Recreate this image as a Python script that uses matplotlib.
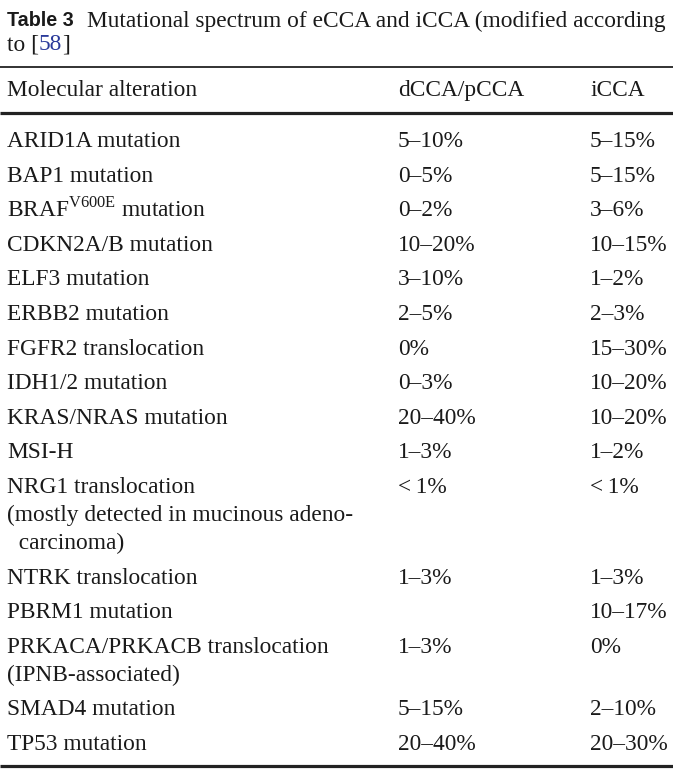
import matplotlib
matplotlib.use("Agg")
import matplotlib.pyplot as plt

plt.rcParams['mathtext.fontset'] = 'custom'
plt.rcParams['mathtext.rm'] = 'Liberation Serif'

title_label = "Table 3"
title_text = "Mutational spectrum of eCCA and iCCA (modified according"
title_line2 = ["to [", "58", "]"]
headers = ["Molecular alteration", "dCCA/pCCA", "iCCA"]

alterations = [
    ["ARID1A mutation"],
    ["BAP1 mutation"],
    [r"BRAF$^{\mathrm{V600E}}$ mutation"],
    ["CDKN2A/B mutation"],
    ["ELF3 mutation"],
    ["ERBB2 mutation"],
    ["FGFR2 translocation"],
    ["IDH1/2 mutation"],
    ["KRAS/NRAS mutation"],
    ["MSI-H"],
    ["NRG1 translocation", "(mostly detected in mucinous adeno-", "  carcinoma)"],
    ["NTRK translocation"],
    ["PBRM1 mutation"],
    ["PRKACA/PRKACB translocation", "(IPNB-associated)"],
    ["SMAD4 mutation"],
    ["TP53 mutation"],
]
dcca = ["5–10%", "0–5%", "0–2%", "10–20%", "3–10%", "2–5%", "0%", "0–3%",
        "20–40%", "1–3%", "<\u20091%", "1–3%", "", "1–3%", "5–15%", "20–40%"]
icca = ["5–15%", "5–15%", "3–6%", "10–15%", "1–2%", "2–3%", "15–30%", "10–20%",
        "10–20%", "1–2%", "<\u20091%", "1–3%", "10–17%", "0%", "2–10%", "20–30%"]

W, H = 673, 771
fig = plt.figure(figsize=(W / 100, H / 100), dpi=100)
ax = fig.add_axes([0, 0, 1, 1])
ax.set_xlim(0, W)
ax.set_ylim(H, 0)
ax.axis('off')

serif = ['Liberation Serif', 'DejaVu Serif']
fs = 16.8
col_x = [7, 398, 590]
txtc = '#1a1a1a'

renderer = fig.canvas.get_renderer()

def width_px(t):
    bb = t.get_window_extent(renderer=renderer)
    return bb.width

# Title
ax.text(7, 26.5, title_label, family=['Liberation Sans', 'DejaVu Sans'], fontweight='bold',
        fontsize=14.2, va='baseline', ha='left', color=txtc)
ax.text(87, 26.5, title_text, family=serif, fontsize=fs, va='baseline', ha='left', color=txtc)
x = 7
colors = [txtc, '#2a3a9a', txtc]
for part, c in zip(title_line2, colors):
    t = ax.text(x, 50, part, family=serif, fontsize=fs, va='baseline', ha='left', color=c)
    x += width_px(t)

# Rules
ax.plot([0, W], [67, 67], color='#222222', lw=1.3, solid_capstyle='butt')
ax.plot([0, W], [113, 113], color='#222222', lw=2.3, solid_capstyle='butt')
ax.plot([0, W], [766, 766], color='#222222', lw=2.3, solid_capstyle='butt')

# Header
for hx, h in zip(col_x, headers):
    ax.text(hx, 96, h, family=serif, fontsize=fs, va='baseline', ha='left', color=txtc)

# Body
y = 147
line_pitch = 28
row_gap = 34.6
for lab, d, i in zip(alterations, dcca, icca):
    for k, line in enumerate(lab):
        ax.text(col_x[0], y + k * line_pitch, line, family=serif, fontsize=fs,
                va='baseline', ha='left', color=txtc)
    ax.text(col_x[1], y, d, family=serif, fontsize=fs, va='baseline', ha='left', color=txtc)
    ax.text(col_x[2], y, i, family=serif, fontsize=fs, va='baseline', ha='left', color=txtc)
    y += line_pitch * (len(lab) - 1) + row_gap

fig.savefig("out.png", dpi=100)
